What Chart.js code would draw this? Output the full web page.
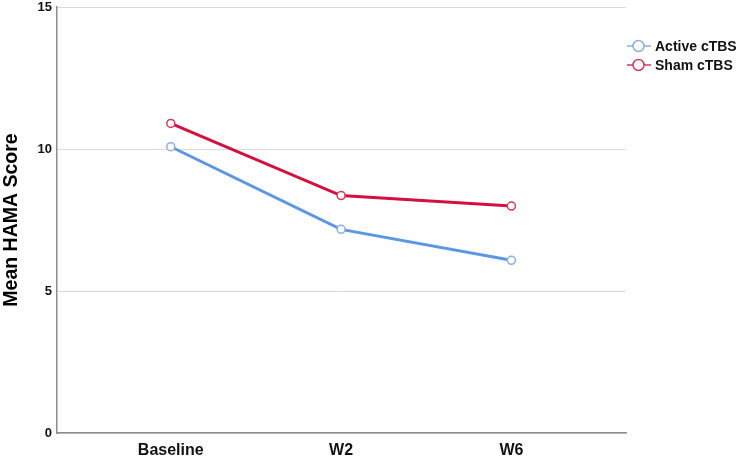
<!DOCTYPE html>
<html>
<head>
<meta charset="utf-8">
<script src="https://cdn.jsdelivr.net/npm/chart.js@4"></script>
<style>
  body { margin: 0; background: #fff; }
  #wrap { position: relative; width: 750px; height: 461px; }
  .legend { position: absolute; left: 627px; top: 36px; font-family: "Liberation Sans", Arial, sans-serif; font-weight: bold; font-size: 14px; color: #111; }
  .item { display: flex; align-items: center; height: 19px; }
  .item svg { margin-right: 4px; }
</style>
</head>
<body>
<div id="wrap">
  <canvas id="chart" width="750" height="461"></canvas>
  <div class="legend" id="legend"></div>
</div>
<script>
const categories = ['Baseline', 'W2', 'W6'];
const activeMeans = [10.08, 7.17, 6.08];
const shamMeans = [10.90, 8.36, 7.99];
const yTicks = [0, 5, 10, 15];

const series = [
    { label: 'Active cTBS', values: activeMeans, line: '#5b97e2', point: '#8eaedb' },
    { label: 'Sham cTBS', values: shamMeans, line: '#d3103f', point: '#cf3a5c' }
];

// legend as html
const legend = document.getElementById('legend');
series.forEach(s => {
    const row = document.createElement('div');
    row.className = 'item';
    row.innerHTML = '<svg width="24" height="14"><line x1="0" y1="7" x2="24" y2="7" stroke="' + s.point + '" stroke-width="1.5"/>' +
        '<circle cx="11.5" cy="7" r="5.5" fill="#fff" stroke="' + s.point + '" stroke-width="1.5"/></svg><span>' + s.label + '</span>';
    legend.appendChild(row);
});

const ctx = document.getElementById('chart').getContext('2d');
new Chart(ctx, {
    type: 'line',
    data: {
        datasets: series.map(s => ({
            label: s.label,
            data: s.values.map((v, i) => ({ x: i, y: v })),
            borderColor: s.line,
            borderWidth: 3,
            pointRadius: 4,
            pointBackgroundColor: '#fff',
            pointBorderColor: s.point,
            pointBorderWidth: 1.5,
            tension: 0
        }))
    },
    options: {
        responsive: false,
        animation: false,
        layout: { padding: { top: 7, right: 124, left: 0, bottom: 0 } },
        plugins: {
            legend: { display: false },
            tooltip: { enabled: false }
        },
        scales: {
            x: {
                type: 'linear',
                min: -0.668,
                max: 2.673,
                afterBuildTicks: scale => {
                    scale.ticks = categories.map((c, i) => ({ value: i }));
                },
                afterFit: scale => {
                    scale.height = 28;
                    scale.paddingLeft = 0;
                    scale.paddingRight = 0;
                },
                grid: { display: false, drawTicks: false },
                border: { display: true, color: '#8c8c8c', width: 1.5 },
                ticks: {
                    padding: 8,
                    color: '#111',
                    font: { family: 'Liberation Sans', weight: 'bold', size: 16 },
                    callback: v => categories[v]
                }
            },
            y: {
                min: 0,
                max: 15,
                afterBuildTicks: scale => {
                    scale.ticks = yTicks.map(v => ({ value: v }));
                },
                afterFit: scale => {
                    scale.width = 57;
                    scale.paddingTop = 0;
                    scale.paddingBottom = 0;
                },
                grid: { color: '#dadada', lineWidth: 1, drawTicks: false },
                border: { display: true, color: '#8c8c8c', width: 1.5 },
                ticks: {
                    padding: 5,
                    color: '#111',
                    font: { family: 'Liberation Sans', weight: 'bold', size: 13 }
                },
                title: {
                    display: true,
                    text: 'Mean HAMA Score',
                    color: '#000',
                    padding: { top: 0 },
                    font: { family: 'Liberation Sans', weight: 'bold', size: 19.5 }
                }
            }
        }
    }
});
</script>
</body>
</html>
